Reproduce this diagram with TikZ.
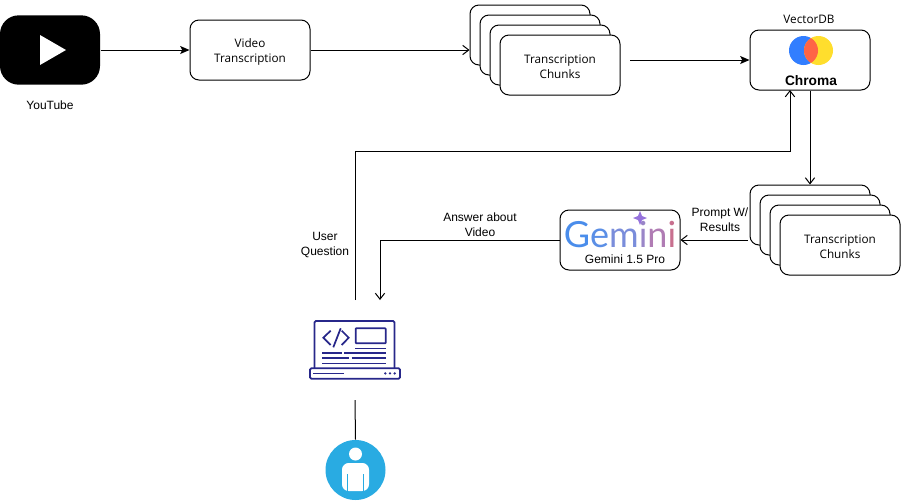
\documentclass[tikz,border=0pt]{standalone}
\usepackage{fontspec}
\usepackage{xcolor}
\setmainfont{Liberation Sans}
\newfontfamily\sketchfont{Open Sans}
\newfontfamily\geminifont{Lato}
\usetikzlibrary{arrows.meta}
\definecolor{laptopblue}{HTML}{27278A}
\definecolor{userblue}{HTML}{29ABE2}
\definecolor{chromablue}{HTML}{327EFF}
\definecolor{chromayellow}{HTML}{FFDE2D}
\definecolor{chromared}{HTML}{FF6446}
\tikzset{
  % node styles
  roundbox/.style={draw,fill=white,rounded corners=6.75pt,minimum width=90pt,minimum height=45pt,inner sep=0pt},
  sketch/.style={font=\sketchfont\fontsize{8.8}{11.25}\selectfont,align=center},
  plain/.style={font=\fontsize{9}{11.25}\selectfont,align=center},
  % edge styles
  solidtip/.style={-{Stealth[length=7pt,width=6pt,inset=1.5pt]}},
  opentip/.style={-{Straight Barb[length=4.5pt,width=7pt]}},
  % icon styles
  laptopline/.style={draw=laptopblue,line width=1.3pt},
  laptopthin/.style={draw=laptopblue,line width=1pt},
}
\begin{document}
\begin{tikzpicture}[x=0.75pt,y=-0.75pt,line width=0.75pt]
        \useasboundingbox (0,0) rectangle (901,501);
        % 1st row
        \node(yt)[fill=black,rounded corners=14pt,minimum width=75pt,minimum height=52pt,inner sep=0pt] at(50,50){};
        \fill[white] (40,35)--(66,50)--(40,65)--cycle;
        \node(ytlabel)[plain] at(50,105){YouTube};
        \node(vt)[roundbox] at(250,50){};
        \node(vtlabel)[sketch] at(250,51.5){Video\\Transcription};
        \foreach \i/\x/\y in {1/530/35,2/540/45,3/550/55,4/560/65}
            \node(tc\i)[roundbox] at(\x,\y){};
        \node(tclabel)[sketch] at(560,66.5){Transcription\\Chunks};
        \coordinate(tcout) at(630,60);
        % VectorDB
        \node(chroma)[roundbox] at(810,60){};
        \node(dblabel)[sketch] at(809,19){VectorDB};
        \fill[chromablue] (803.5,50.5) circle (14.5);
        \fill[chromayellow] (818.5,50.5) circle (14.5);
        \begin{scope}
            \clip (803.5,50.5) circle (14.5);
            \fill[chromared] (818.5,50.5) circle (14.5);
        \end{scope}
        \node(chromalabel)[font=\bfseries\fontsize{10.3}{12}\selectfont] at(811,80.5){Chroma};
        % 2nd row
        \foreach \i/\x/\y in {1/810/215,2/820/225,3/830/235,4/840/245}
            \node(rc\i)[roundbox] at(\x,\y){};
        \node(rclabel)[sketch] at(840,246.5){Transcription\\Chunks};
        \coordinate(promptout) at(748,240);
        \node(promptlabel)[plain] at(720,220){Prompt W/\\Results};
        \node(gemini)[roundbox] at(620,240){};
        \node(geminilogo)[font=\geminifont\fontsize{27}{27}\selectfont,inner sep=0pt] at(620,235){%
            \textcolor[HTML]{4A8DEB}{G}\textcolor[HTML]{5B8FE6}{e}\textcolor[HTML]{7A8DDB}{m}\textcolor[HTML]{9A86C8}{i}\textcolor[HTML]{B07CB4}{n}\textcolor[HTML]{C8708F}{i}};
        \fill[violet!50!blue!55!white] (640,211)--(642,216)--(647,218)--(642,220)--(640,225)--(638,220)--(633,218)--(638,216)--cycle;
        \node(geminilabel)[plain] at(625,259){Gemini 1.5 Pro};
        \node(answerlabel)[plain] at(480,225){Answer about\\Video};
        \node(questionlabel)[plain] at(325,245){User\\Question};
        % laptop
        \coordinate(lapout) at(355,300);
        \coordinate(lapin) at(380,300);
        \coordinate(chromain) at(790,90);
        \coordinate(chromabend) at(790,151);
        \draw[laptopline,rounded corners=1pt] (314.5,368)--(314.5,321)--(394.5,321)--(394.5,368);
        \draw[laptopline,rounded corners=1pt] (310,368.3) rectangle (400,378.7);
        \draw[laptopline] (330.7,330.7)--(323.3,337.7)--(330.7,345);
        \draw[laptopline] (340.7,328.3)--(333.3,347.3);
        \draw[laptopline] (341.7,330.7)--(348.7,337.7)--(341.7,345);
        \draw[laptopline,rounded corners=0.5pt] (355.7,328.3) rectangle (385.7,343.3);
        \draw[laptopthin] (355,348.7)--(386,348.7);
        \draw[laptopthin] (322.3,353)--(341.7,353) (344.3,353)--(386,353);
        \draw[laptopthin] (322.3,358)--(349.3,358) (351.7,358)--(386,358);
        \draw[laptopthin] (322.3,363.3)--(386,363.3);
        \draw[laptopthin] (313.3,373.3)--(344.3,373.3);
        \foreach \x in {385.3,390,394.7}
            \fill[laptopblue] (\x,373.4) circle (1.3);
        % user
        \coordinate(lapdown) at(355,400);
        \node(user)[circle,fill=userblue,minimum size=45pt,inner sep=0pt] at(355.5,470){};
        \fill[white] (355.5,454) circle (6.5);
        \fill[white,rounded corners=5pt] (342,491)--(342,463)--(369,463)--(369,491)--cycle;
        \draw[userblue,line width=0.4pt] (347.7,474)--(347.7,491) (363.3,474)--(363.3,491);
        % connectors
        \draw[solidtip] (yt.east)--(vt.west);
        \draw[opentip] (vt.east)--(vt.east -| tc1.west);
        \draw[solidtip] (tcout)--(chroma.west);
        \draw[opentip] (chroma.south)--(rc1.north);
        \draw[opentip] (promptout)--(gemini.east);
        \draw[opentip] (gemini.west) -| (lapin);
        \draw[opentip] (lapout) |- (chromabend)--(chromain);
        \draw (lapdown)--(user.north);
\end{tikzpicture}
\end{document}
